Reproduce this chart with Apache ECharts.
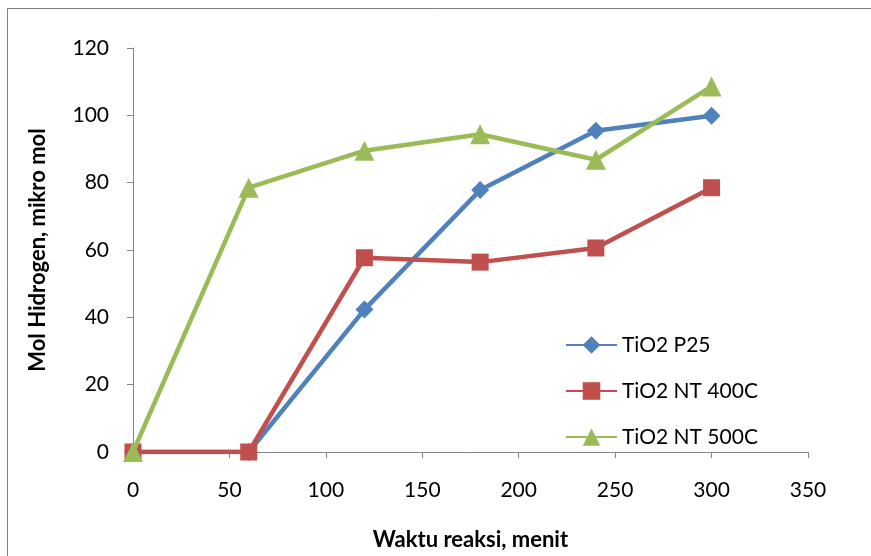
<!DOCTYPE html>
<html>
<head>
<meta charset="utf-8">
<script src="https://cdn.jsdelivr.net/npm/echarts@6/dist/echarts.min.js"></script>
<style>html,body{margin:0;padding:0;background:#fff}#c{width:871px;height:556px}</style>
</head>
<body>
<div id="c"></div>
<script>
const xValues = [0, 60, 120, 180, 240, 300];
const seriesNames = ['TiO2 P25', 'TiO2 NT 400C', 'TiO2 NT 500C'];
const p25 = [0, 0, 42.3, 77.8, 95.4, 99.9];
const nt400 = [0, 0, 57.7, 56.4, 60.6, 78.5];
const nt500 = [0, 78.5, 89.5, 94.4, 86.8, 108.6];
const xTicks = [0, 50, 100, 150, 200, 250, 300, 350];
const yTicks = [0, 20, 40, 60, 80, 100, 120];
const xTitle = 'Waktu reaksi, menit';
const yTitle = 'Mol Hidrogen, mikro mol';

const colors = ['#4F81BD', '#C0504D', '#9BBB59'];
const symbols = ['diamond', 'rect', 'triangle'];
const symbolSizes = [18, 17, 20];
const allData = [p25, nt400, nt500];
const font = 'Lato, "Liberation Sans", sans-serif';

const chart = echarts.init(document.getElementById('c'));
chart.setOption({
  backgroundColor: '#fff',
  animation: false,
  graphic: [{
    type: 'rect', shape: { x: 7.5, y: 8.5, width: 900, height: 600 },
    style: { fill: 'none', stroke: '#808080', lineWidth: 1 }, silent: true, z: -1
  }],
  grid: { left: 133, top: 48, right: 63, bottom: 103 },
  legend: {
    orient: 'vertical', left: 565, top: 333, itemGap: 22, padding: 0,
    itemWidth: 51, itemHeight: 22,
    textStyle: { fontFamily: font, fontSize: 21, color: '#000', lineHeight: 24 },
    data: seriesNames
  },
  xAxis: {
    type: 'value', min: xTicks[0], max: xTicks[xTicks.length - 1], interval: 50,
    name: xTitle, nameLocation: 'middle', nameGap: 77,
    nameTextStyle: { fontFamily: font, fontSize: 22, fontWeight: 'bold', color: '#000' },
    axisLine: { show: true, lineStyle: { color: '#868686', width: 1 } },
    axisTick: { show: true, inside: false, length: 6, lineStyle: { color: '#868686' } },
    axisLabel: { fontFamily: font, fontSize: 21, color: '#000', margin: 28 },
    splitLine: { show: false }
  },
  yAxis: {
    type: 'value', min: yTicks[0], max: yTicks[yTicks.length - 1], interval: 20,
    name: yTitle, nameLocation: 'middle', nameGap: 84, nameRotate: 90,
    nameTextStyle: { fontFamily: font, fontSize: 22, fontWeight: 'bold', color: '#000' },
    axisLine: { show: true, lineStyle: { color: '#868686', width: 1 } },
    axisTick: { show: true, inside: false, length: 6, lineStyle: { color: '#868686' } },
    axisLabel: { fontFamily: font, fontSize: 21, color: '#000', margin: 24 },
    splitLine: { show: false }
  },
  series: seriesNames.map((name, i) => ({
    name, type: 'line',
    data: xValues.map((x, j) => [x, allData[i][j]]),
    symbol: symbols[i], symbolSize: symbolSizes[i],
    itemStyle: { color: colors[i] },
    lineStyle: { color: colors[i], width: 4.5 },
    z: 2 + i
  }))
});
</script>
</body>
</html>
